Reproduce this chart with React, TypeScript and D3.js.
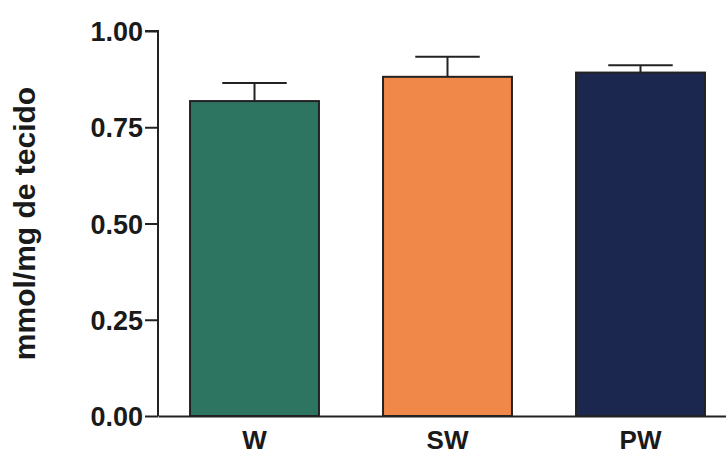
import * as d3 from 'd3'
import { useRef, useEffect } from 'react'

const groups = ['W', 'SW', 'PW']
const means = [0.818, 0.881, 0.892]
const errors = [0.047, 0.052, 0.019]
const colors = ['#2e7561', '#f0884a', '#1c2750']
const yTicks = [0, 0.25, 0.5, 0.75, 1]

const W = 726
const H = 457
const margin = { top: 31, right: 0, bottom: 41, left: 158 }

const App = () => {
  const xScale = d3.scaleBand()
    .domain(groups)
    .range([margin.left, margin.left + 3 * 193])
    .paddingInner(0.332)
    .paddingOuter(0.166)

  const yScale = d3.scaleLinear()
    .domain([0, 1])
    .range([H - margin.bottom, margin.top])

  const yAxis = useRef<SVGGElement>(null)
  const xAxis = useRef<SVGGElement>(null)

  useEffect(() => {
    const ya = d3.select(yAxis.current)
    ya.call(d3.axisLeft(yScale).tickValues(yTicks).tickFormat(d3.format('.2f')).tickSize(13).tickPadding(2))
    ya.select('.domain').attr('stroke', '#222').attr('stroke-width', 2).attr('d', `M-13,${yScale(1)}H0V${yScale(0)}`)
    ya.selectAll('.tick line').attr('stroke', '#222').attr('stroke-width', 2)
    ya.selectAll('.tick text')
      .attr('fill', '#1a1a1a')
      .style('font-family', '"Liberation Sans", Arial, sans-serif')
      .style('font-weight', 'bold')
      .style('font-size', '27px')
      .attr('dy', '0.36em')

    const xa = d3.select(xAxis.current)
    xa.call(d3.axisBottom(xScale).tickSize(0).tickPadding(15))
    xa.select('.domain').attr('stroke', '#222').attr('stroke-width', 2)
    xa.selectAll('.tick text')
      .attr('fill', '#1a1a1a')
      .style('font-family', '"Liberation Sans", Arial, sans-serif')
      .style('font-weight', 'bold')
      .style('font-size', '26px')
  })

  const bars = groups.map((g, i) => {
    const x = xScale(g)!
    const bw = xScale.bandwidth()
    const cx = x + bw / 2
    const top = yScale(means[i])
    const errTop = yScale(means[i] + errors[i])
    return (
      <g key={g}>
        <line x1={cx} x2={cx} y1={top} y2={errTop} stroke="#222" strokeWidth={2} />
        <line x1={cx - bw / 4} x2={cx + bw / 4} y1={errTop} y2={errTop} stroke="#222" strokeWidth={2} />
        <rect x={x} y={top} width={bw} height={yScale(0) - top} fill={colors[i]} stroke="#222" strokeWidth={2} />
      </g>
    )
  })

  return (
    <div style={{ position: 'absolute', left: 0, top: 0 }}>
      <svg width={W} height={H} style={{ display: 'block', background: '#fff' }}>
        {bars}
        <g ref={xAxis} transform={`translate(0, ${yScale(0)})`} />
        <g ref={yAxis} transform={`translate(${margin.left}, 0)`} />
        <text
          transform={`translate(35, ${(yScale(0) + yScale(1)) / 2}) rotate(-90)`}
          textAnchor="middle"
          fill="#1a1a1a"
          style={{ fontFamily: '"Liberation Sans", Arial, sans-serif', fontWeight: 'bold', fontSize: '30px' }}
        >
          mmol/mg de tecido
        </text>
      </svg>
    </div>
  )
}

export default App
